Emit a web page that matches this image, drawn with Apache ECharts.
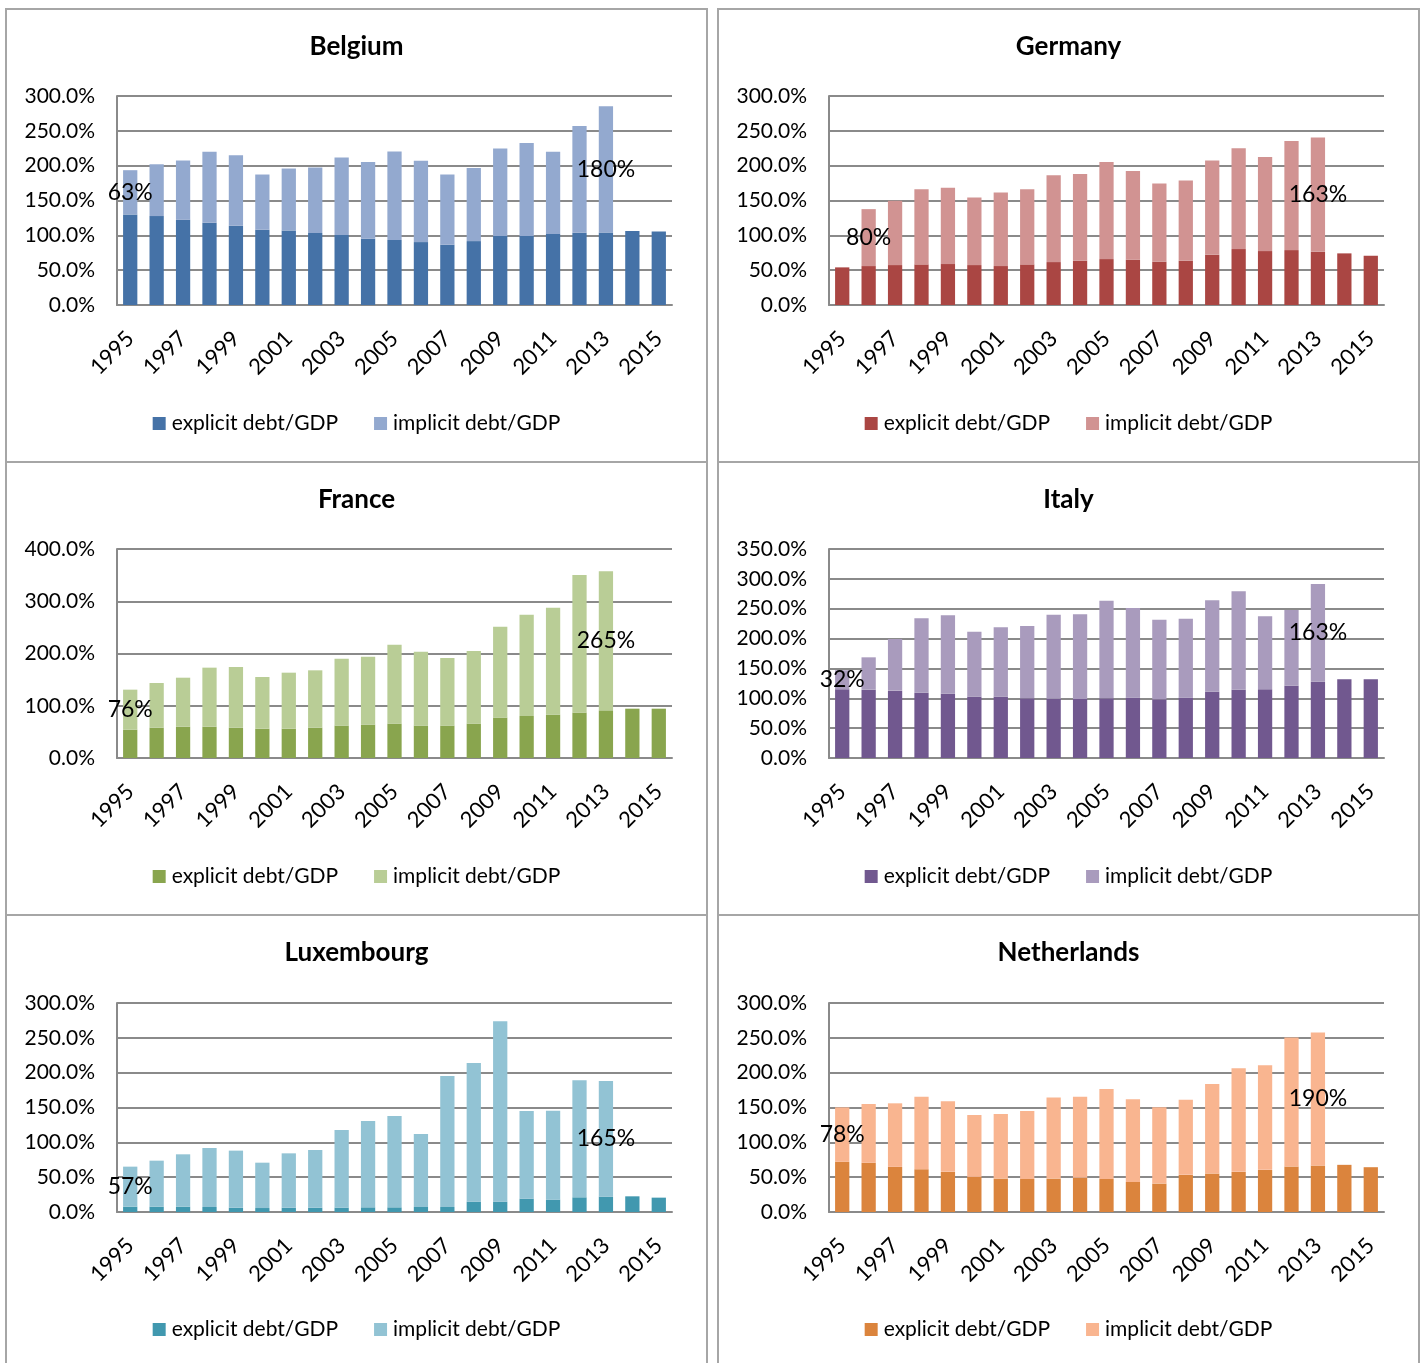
<!DOCTYPE html>
<html>
<head>
<meta charset="utf-8">
<script src="https://cdn.jsdelivr.net/npm/echarts@6/dist/echarts.min.js"></script>
<style>
  html, body { margin: 0; padding: 0; background: #fff; }
  body { width: 1427px; height: 1363px; position: relative; overflow: hidden; }
  .panel { position: absolute; width: 703px; height: 455px; }
  .frame { position: absolute; width: 703px; height: 455px; box-sizing: border-box;
           border: 2px solid #a6a6a6; pointer-events: none; }
</style>
</head>
<body>

<div class="panel" id="p-belgium" style="left:5px;top:8px"></div>
<div class="panel" id="p-germany" style="left:717px;top:8px"></div>
<div class="panel" id="p-france" style="left:5px;top:461px"></div>
<div class="panel" id="p-italy" style="left:717px;top:461px"></div>
<div class="panel" id="p-luxembourg" style="left:5px;top:914px"></div>
<div class="panel" id="p-netherlands" style="left:717px;top:914px"></div>

<div class="frame" style="left:5px;top:8px"></div>
<div class="frame" style="left:717px;top:8px"></div>
<div class="frame" style="left:5px;top:461px"></div>
<div class="frame" style="left:717px;top:461px"></div>
<div class="frame" style="left:5px;top:914px"></div>
<div class="frame" style="left:717px;top:914px"></div>

<script>
// yillar (kategori ekseni)
const years = ["1995","1996","1997","1998","1999","2000","2001","2002","2003","2004",
               "2005","2006","2007","2008","2009","2010","2011","2012","2013","2014","2015"];

// explicit = yigilmis cubugun alt parcasi, implicit = ust parca (1995-2013)
const belgiumExplicit = [130.0,127.6,122.3,118.0,113.7,108.0,107.0,103.2,100.3,95.0,93.2,90.3,86.5,91.7,98.9,98.9,101.8,103.7,104.2,106.1,105.6];
const belgiumImplicit = [63.5,74.4,85.1,101.8,101.3,79.3,88.9,94.1,111.4,110.4,127.1,116.6,100.8,105.1,125.7,133.8,118.0,153.3,181.0];
const belgiumLabels = ["63%", "180%"];

const germanyExplicit = [54.0,55.9,57.3,58.3,58.8,57.3,55.9,58.3,61.6,63.5,65.9,65.0,62.1,63.5,72.1,80.3,77.4,78.8,76.4,74.1,70.7];
const germanyImplicit = [null,81.7,92.2,108.0,109.4,97.0,105.6,108.0,124.7,124.7,139.5,127.5,112.3,115.2,135.3,144.7,135.2,156.7,163.9];
const germanyLabels = ["80%", "163%"];

const franceExplicit = [54.2,58.1,60.0,60.0,58.1,56.1,56.1,58.1,61.9,63.8,65.7,61.9,61.9,65.7,77.2,80.4,82.9,86.8,91.2,94.4,94.4];
const franceImplicit = [76.6,85.4,93.7,112.9,116.1,98.9,107.2,109.7,128.2,130.1,151.2,141.6,129.5,139.1,174.2,193.9,204.8,263.4,266.1];
const franceLabels = ["76%", "265%"];

const italyExplicit = [115.0,114.4,112.8,109.4,107.7,102.7,102.7,99.9,99.4,98.8,99.9,101.0,98.2,101.0,111.1,114.4,115.0,121.1,127.8,131.7,131.7];
const italyImplicit = [32.0,54.2,86.5,124.5,131.2,108.9,116.1,121.1,140.6,141.8,163.6,150.2,133.5,132.3,152.9,164.7,122.2,126.8,163.6];
const italyLabels = ["32%", "163%"];

const luxembourgExplicit = [7.7,7.7,7.7,7.2,6.2,5.7,6.2,6.2,6.2,6.7,6.7,7.2,7.2,14.8,14.8,19.1,17.7,21.1,22.0,22.5,20.6];
const luxembourgImplicit = [57.4,66.0,75.1,84.7,81.9,65.1,78.0,82.8,111.5,123.9,131.1,104.8,188.0,199.1,258.9,125.9,127.8,167.9,166.0];
const luxembourgLabels = ["57%", "165%"];

const netherlandsExplicit = [72.0,70.6,64.8,61.4,57.6,50.4,48.0,47.5,48.0,49.0,47.5,43.2,40.8,53.3,55.2,57.6,60.5,65.3,66.7,67.7,64.3];
const netherlandsImplicit = [78.2,84.4,91.2,104.2,101.3,88.8,92.6,97.5,116.2,116.6,129.1,118.6,109.4,108.0,128.7,148.8,150.2,185.3,191.1];
const netherlandsLabels = ["78%", "190%"];

const FONT = "Lato, 'Open Sans', sans-serif";
const GRID_COLOR = "#8a8a8a";

function labelled(values, labels) {
    // ilk dolu deger ve son deger icin etiket
    const first = values.findIndex(v => v !== null);
    const last = values.length - 1;
    return values.map((v, i) => {
        if (i !== first && i !== last) return v;
        return {
            value: v,
            label: {
                show: true,
                position: "inside",
                formatter: i === first ? labels[0] : labels[1],
                color: "#000",
                fontSize: 23,
                fontFamily: FONT
            }
        };
    });
}

function drawPanel(domId, title, explicit, implicit, labels, colors, yMax, yInterval, gridTop) {
    const chart = echarts.init(document.getElementById(domId));
    const option = {
        animation: false,
        textStyle: { fontFamily: FONT },
        title: {
            text: title,
            left: "center",
            top: 26,
            padding: 0,
            textStyle: { fontSize: 26, fontWeight: "bold", color: "#000", fontFamily: FONT }
        },
        legend: {
            top: 405,
            left: "center",
            padding: 0,
            itemWidth: 13,
            itemHeight: 13,
            itemGap: 36,
            icon: "rect",
            textStyle: { fontSize: 21, color: "#000", fontFamily: FONT, padding: [0, 0, 0, 1] },
            data: ["explicit debt/GDP", "implicit debt/GDP"]
        },
        grid: { left: 112, top: gridTop, width: 555, height: 209, containLabel: false },
        xAxis: {
            type: "category",
            data: years,
            axisLine: { lineStyle: { color: GRID_COLOR, width: 2 } },
            axisTick: { show: false },
            axisLabel: { interval: 1, rotate: 45, fontSize: 22, color: "#000", margin: 30, fontFamily: FONT }
        },
        yAxis: {
            type: "value",
            min: 0,
            max: yMax,
            interval: yInterval,
            axisLine: { show: true, lineStyle: { color: GRID_COLOR, width: 2 } },
            axisTick: { show: false },
            splitLine: { lineStyle: { color: GRID_COLOR, width: 2 } },
            axisLabel: {
                fontSize: 21, color: "#000", margin: 22, fontFamily: FONT,
                formatter: v => v.toFixed(1) + "%"
            }
        },
        series: [
            {
                name: "explicit debt/GDP",
                type: "bar",
                stack: "debt",
                barWidth: "54%",
                itemStyle: { color: colors[0] },
                data: explicit
            },
            {
                name: "implicit debt/GDP",
                type: "bar",
                stack: "debt",
                barWidth: "54%",
                itemStyle: { color: colors[1] },
                data: labelled(implicit, labels)
            }
        ]
    };
    chart.setOption(option);
}

drawPanel("p-belgium", "Belgium", belgiumExplicit, belgiumImplicit, belgiumLabels, ["#4572A7", "#93A9CF"], 300, 50, 88);
drawPanel("p-germany", "Germany", germanyExplicit, germanyImplicit, germanyLabels, ["#AA4643", "#D19392"], 300, 50, 88);
drawPanel("p-france", "France", franceExplicit, franceImplicit, franceLabels, ["#89A54E", "#B9CD96"], 400, 100, 88);
drawPanel("p-italy", "Italy", italyExplicit, italyImplicit, italyLabels, ["#71588F", "#A99BBD"], 350, 50, 88);
drawPanel("p-luxembourg", "Luxembourg", luxembourgExplicit, luxembourgImplicit, luxembourgLabels, ["#4198AF", "#92C3D4"], 300, 50, 89);
drawPanel("p-netherlands", "Netherlands", netherlandsExplicit, netherlandsImplicit, netherlandsLabels, ["#DB843D", "#F9B590"], 300, 50, 89);
</script>
</body>
</html>
